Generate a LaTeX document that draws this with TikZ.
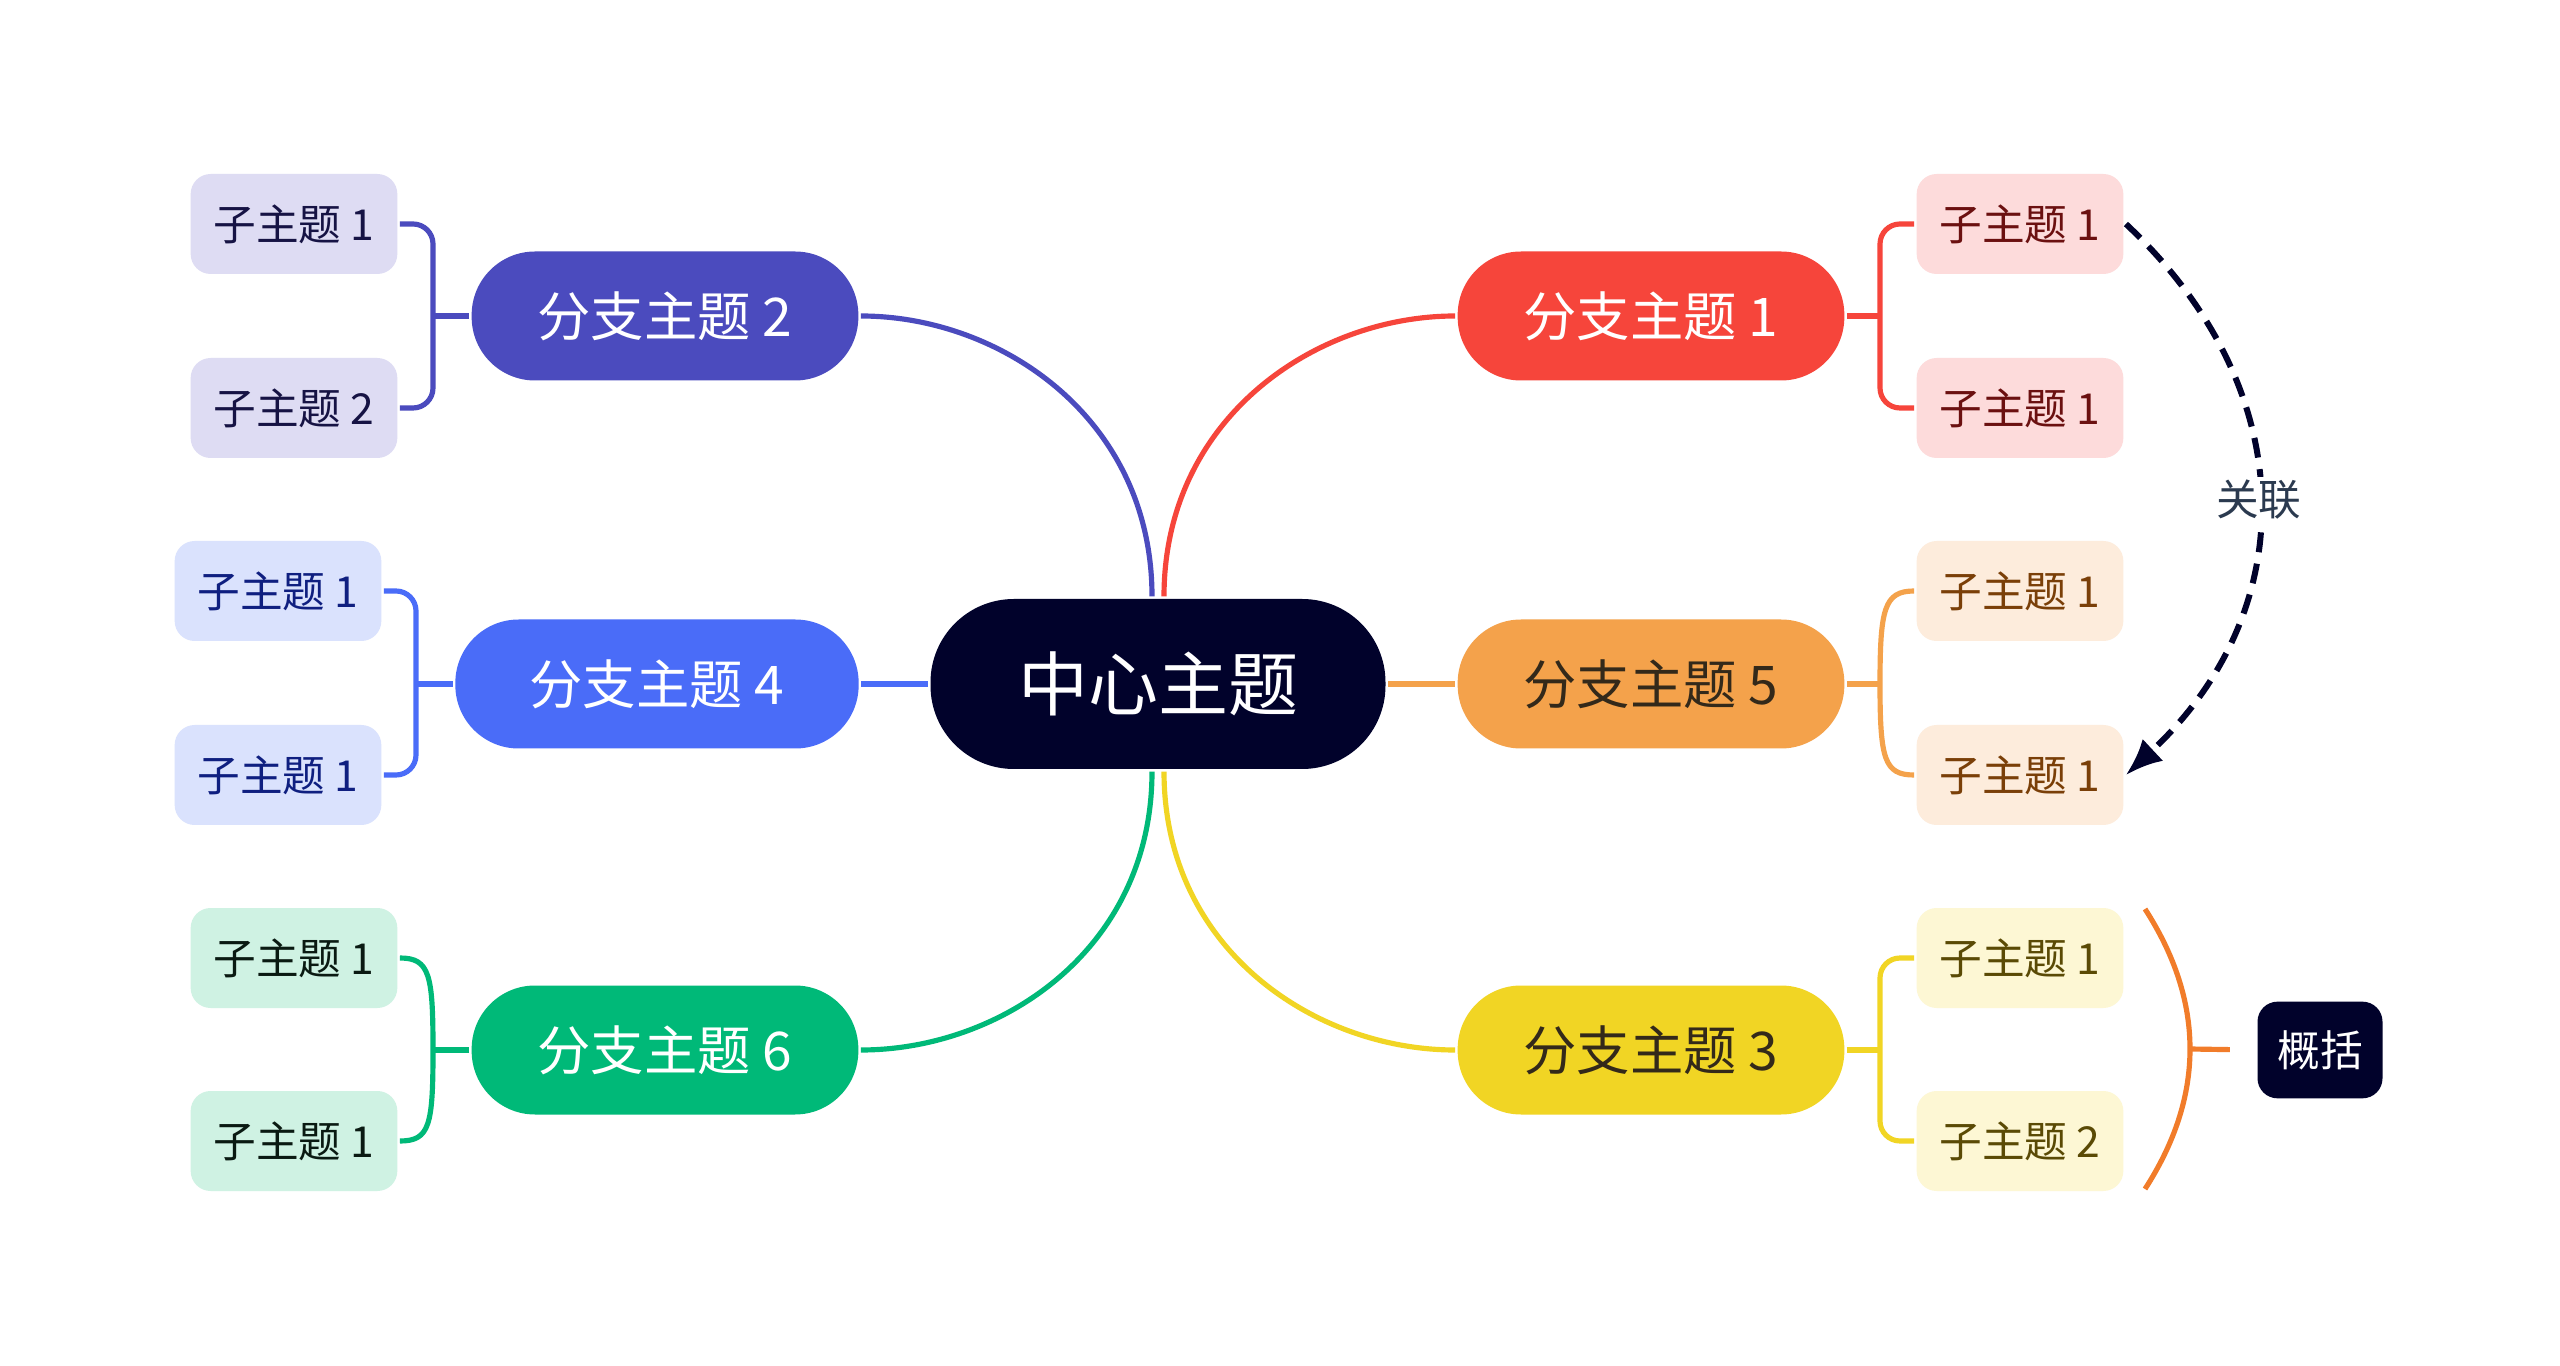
\documentclass[tikz,border=0pt]{standalone}
\usepackage{xcolor}
\usepackage{fontspec}
\setmainfont{Noto Sans CJK SC}
\usepackage{tikz}
\usetikzlibrary{arrows.meta}

% colours of the map
\definecolor{hubcol}{HTML}{01022B}
\definecolor{bonecol}{HTML}{F6453B}
\definecolor{btwocol}{HTML}{4B4BBE}
\definecolor{bthreecol}{HTML}{F1D524}
\definecolor{bfourcol}{HTML}{4A6CF8}
\definecolor{bfivecol}{HTML}{F4A24B}
\definecolor{bsixcol}{HTML}{00B978}
\definecolor{sonefill}{HTML}{FDDBDB}
\definecolor{stwofill}{HTML}{DEDCF3}
\definecolor{sthreefill}{HTML}{FDF7D4}
\definecolor{sfourfill}{HTML}{DAE2FD}
\definecolor{sfivefill}{HTML}{FDECDC}
\definecolor{ssixfill}{HTML}{CFF2E3}
\definecolor{sonetext}{HTML}{6B1010}
\definecolor{stwotext}{HTML}{161344}
\definecolor{sthreetext}{HTML}{5A4A05}
\definecolor{sfourtext}{HTML}{0F1F80}
\definecolor{sfivetext}{HTML}{7A3F08}
\definecolor{ssixtext}{HTML}{0A1A12}
\definecolor{darktext}{HTML}{33291A}
\definecolor{summcol}{HTML}{F17C2A}
\definecolor{reltext}{HTML}{2B3A4F}

\begin{document}
\begin{tikzpicture}[x=0.3pt,y=-0.3pt,line width=1.55pt,
  central/.style={fill=hubcol,text=white,rounded corners=25pt,inner sep=0pt,
    minimum width=136.5pt,minimum height=51pt,font=\fontsize{21pt}{21pt}\selectfont},
  branch/.style={rounded corners=19pt,inner sep=0pt,
    minimum width=116pt,minimum height=38.7pt,font=\fontsize{16pt}{16pt}\selectfont},
  subtopic/.style={rounded corners=6pt,inner sep=0pt,
    minimum width=62pt,minimum height=30pt,font=\fontsize{12.8pt}{12.8pt}\selectfont},
  elbow/.style={rounded corners=6pt}]
% page
\fill[white] (0,0) rectangle (2560,1366);
\useasboundingbox (0,0) rectangle (2560,1366);

% Centre and branches
\node[central] (hub) at (1158,684) {中心主题};
\node[branch,fill=bonecol,text=white] (b1) at (1651,316) {分支主题 1};
\node[branch,fill=bfivecol,text=darktext] (b5) at (1651,684) {分支主题 5};
\node[branch,fill=bthreecol,text=darktext] (b3) at (1651,1050) {分支主题 3};
\node[branch,fill=btwocol,text=white] (b2) at (665,316) {分支主题 2};
\node[branch,fill=bfourcol,text=white,minimum width=121pt] (b4) at (657,684) {分支主题 4};
\node[branch,fill=bsixcol,text=white] (b6) at (665,1050) {分支主题 6};

% Subtopics, right
\node[subtopic,fill=sonefill,text=sonetext] (c11) at (2020,224) {子主题 1};
\node[subtopic,fill=sonefill,text=sonetext] (c12) at (2020,408) {子主题 1};
\node[subtopic,fill=sfivefill,text=sfivetext] (c51) at (2020,591) {子主题 1};
\node[subtopic,fill=sfivefill,text=sfivetext] (c52) at (2020,775) {子主题 1};
\node[subtopic,fill=sthreefill,text=sthreetext] (c31) at (2020,958) {子主题 1};
\node[subtopic,fill=sthreefill,text=sthreetext] (c32) at (2020,1141) {子主题 2};

% Subtopics, left
\node[subtopic,fill=stwofill,text=stwotext] (c21) at (294,224) {子主题 1};
\node[subtopic,fill=stwofill,text=stwotext] (c22) at (294,408) {子主题 2};
\node[subtopic,fill=sfourfill,text=sfourtext] (c41) at (278,591) {子主题 1};
\node[subtopic,fill=sfourfill,text=sfourtext] (c42) at (278,775) {子主题 1};
\node[subtopic,fill=ssixfill,text=ssixtext] (c61) at (294,958) {子主题 1};
\node[subtopic,fill=ssixfill,text=ssixtext] (c62) at (294,1141) {子主题 1};

% Summary
\node[fill=hubcol,text=white,rounded corners=6pt,inner sep=0pt,minimum width=37.5pt,
  minimum height=29pt,font=\fontsize{12.8pt}{12.8pt}\selectfont] (summ) at (2320,1050) {概括};

% junctions
\coordinate (j1) at (1880,316);
\coordinate (j5) at (1880,684);
\coordinate (j3) at (1880,1050);
\coordinate (j2) at (433,316);
\coordinate (j4) at (416,684);
\coordinate (j6) at (433,1050);

% Centre to branches
\draw[bonecol] ([xshift=1.8pt]hub.north) .. controls +(0,-178) and +(-140,0) .. (b1.west);
\draw[btwocol] ([xshift=-1.8pt]hub.north) .. controls +(0,-178) and +(140,0) .. (b2.east);
\draw[bthreecol] ([xshift=1.8pt]hub.south) .. controls +(0,178) and +(-140,0) .. (b3.west);
\draw[bsixcol] ([xshift=-1.8pt]hub.south) .. controls +(0,178) and +(140,0) .. (b6.east);
\draw[bfourcol] (hub.west) -- (b4.east);
\draw[bfivecol] (hub.east) -- (b5.west);

% Branches to subtopics
\draw[bonecol] (b1.east) -- (j1);
\draw[bonecol,elbow] (c11.west) -| (j1) |- (c12.west);
\draw[bfivecol] (b5.east) -- (j5);
\draw[bfivecol] (c51.west) .. controls +(-30,0) and +(0,-75) .. (j5)
  .. controls +(0,75) and +(-30,0) .. (c52.west);
\draw[bthreecol] (b3.east) -- (j3);
\draw[bthreecol,elbow] (c31.west) -| (j3) |- (c32.west);
\draw[btwocol] (b2.west) -- (j2);
\draw[btwocol,elbow] (c21.east) -| (j2) |- (c22.east);
\draw[bfourcol] (b4.west) -- (j4);
\draw[bfourcol,elbow] (c41.east) -| (j4) |- (c42.east);
\draw[bsixcol] (b6.west) -- (j6);
\draw[bsixcol] (c61.east) .. controls +(30,0) and +(0,-75) .. (j6)
  .. controls +(0,75) and +(30,0) .. (c62.east);

% Summary bracket
\coordinate (s1) at (2145,909);
\coordinate (s2) at (2145,1189);
\coordinate (smid) at (2190,1049);
\draw[summcol] (s1) .. controls (2205,1002) and (2205,1096) .. (s2);
\draw[summcol,shorten >=7.5pt] (smid) -- (summ.west);

% Relation
\draw[hubcol,line width=1.8pt,dash pattern=on 6pt off 3.5pt,-{Latex[length=11pt,width=9pt]}]
  (c11.east) .. controls +(177,166) and +(177,-165) .. (c52.east)
  node[pos=0.5,fill=white,text=reltext,inner sep=1pt,font=\fontsize{12.8pt}{12.8pt}\selectfont] (rel) {关联};

\end{tikzpicture}
\end{document}
